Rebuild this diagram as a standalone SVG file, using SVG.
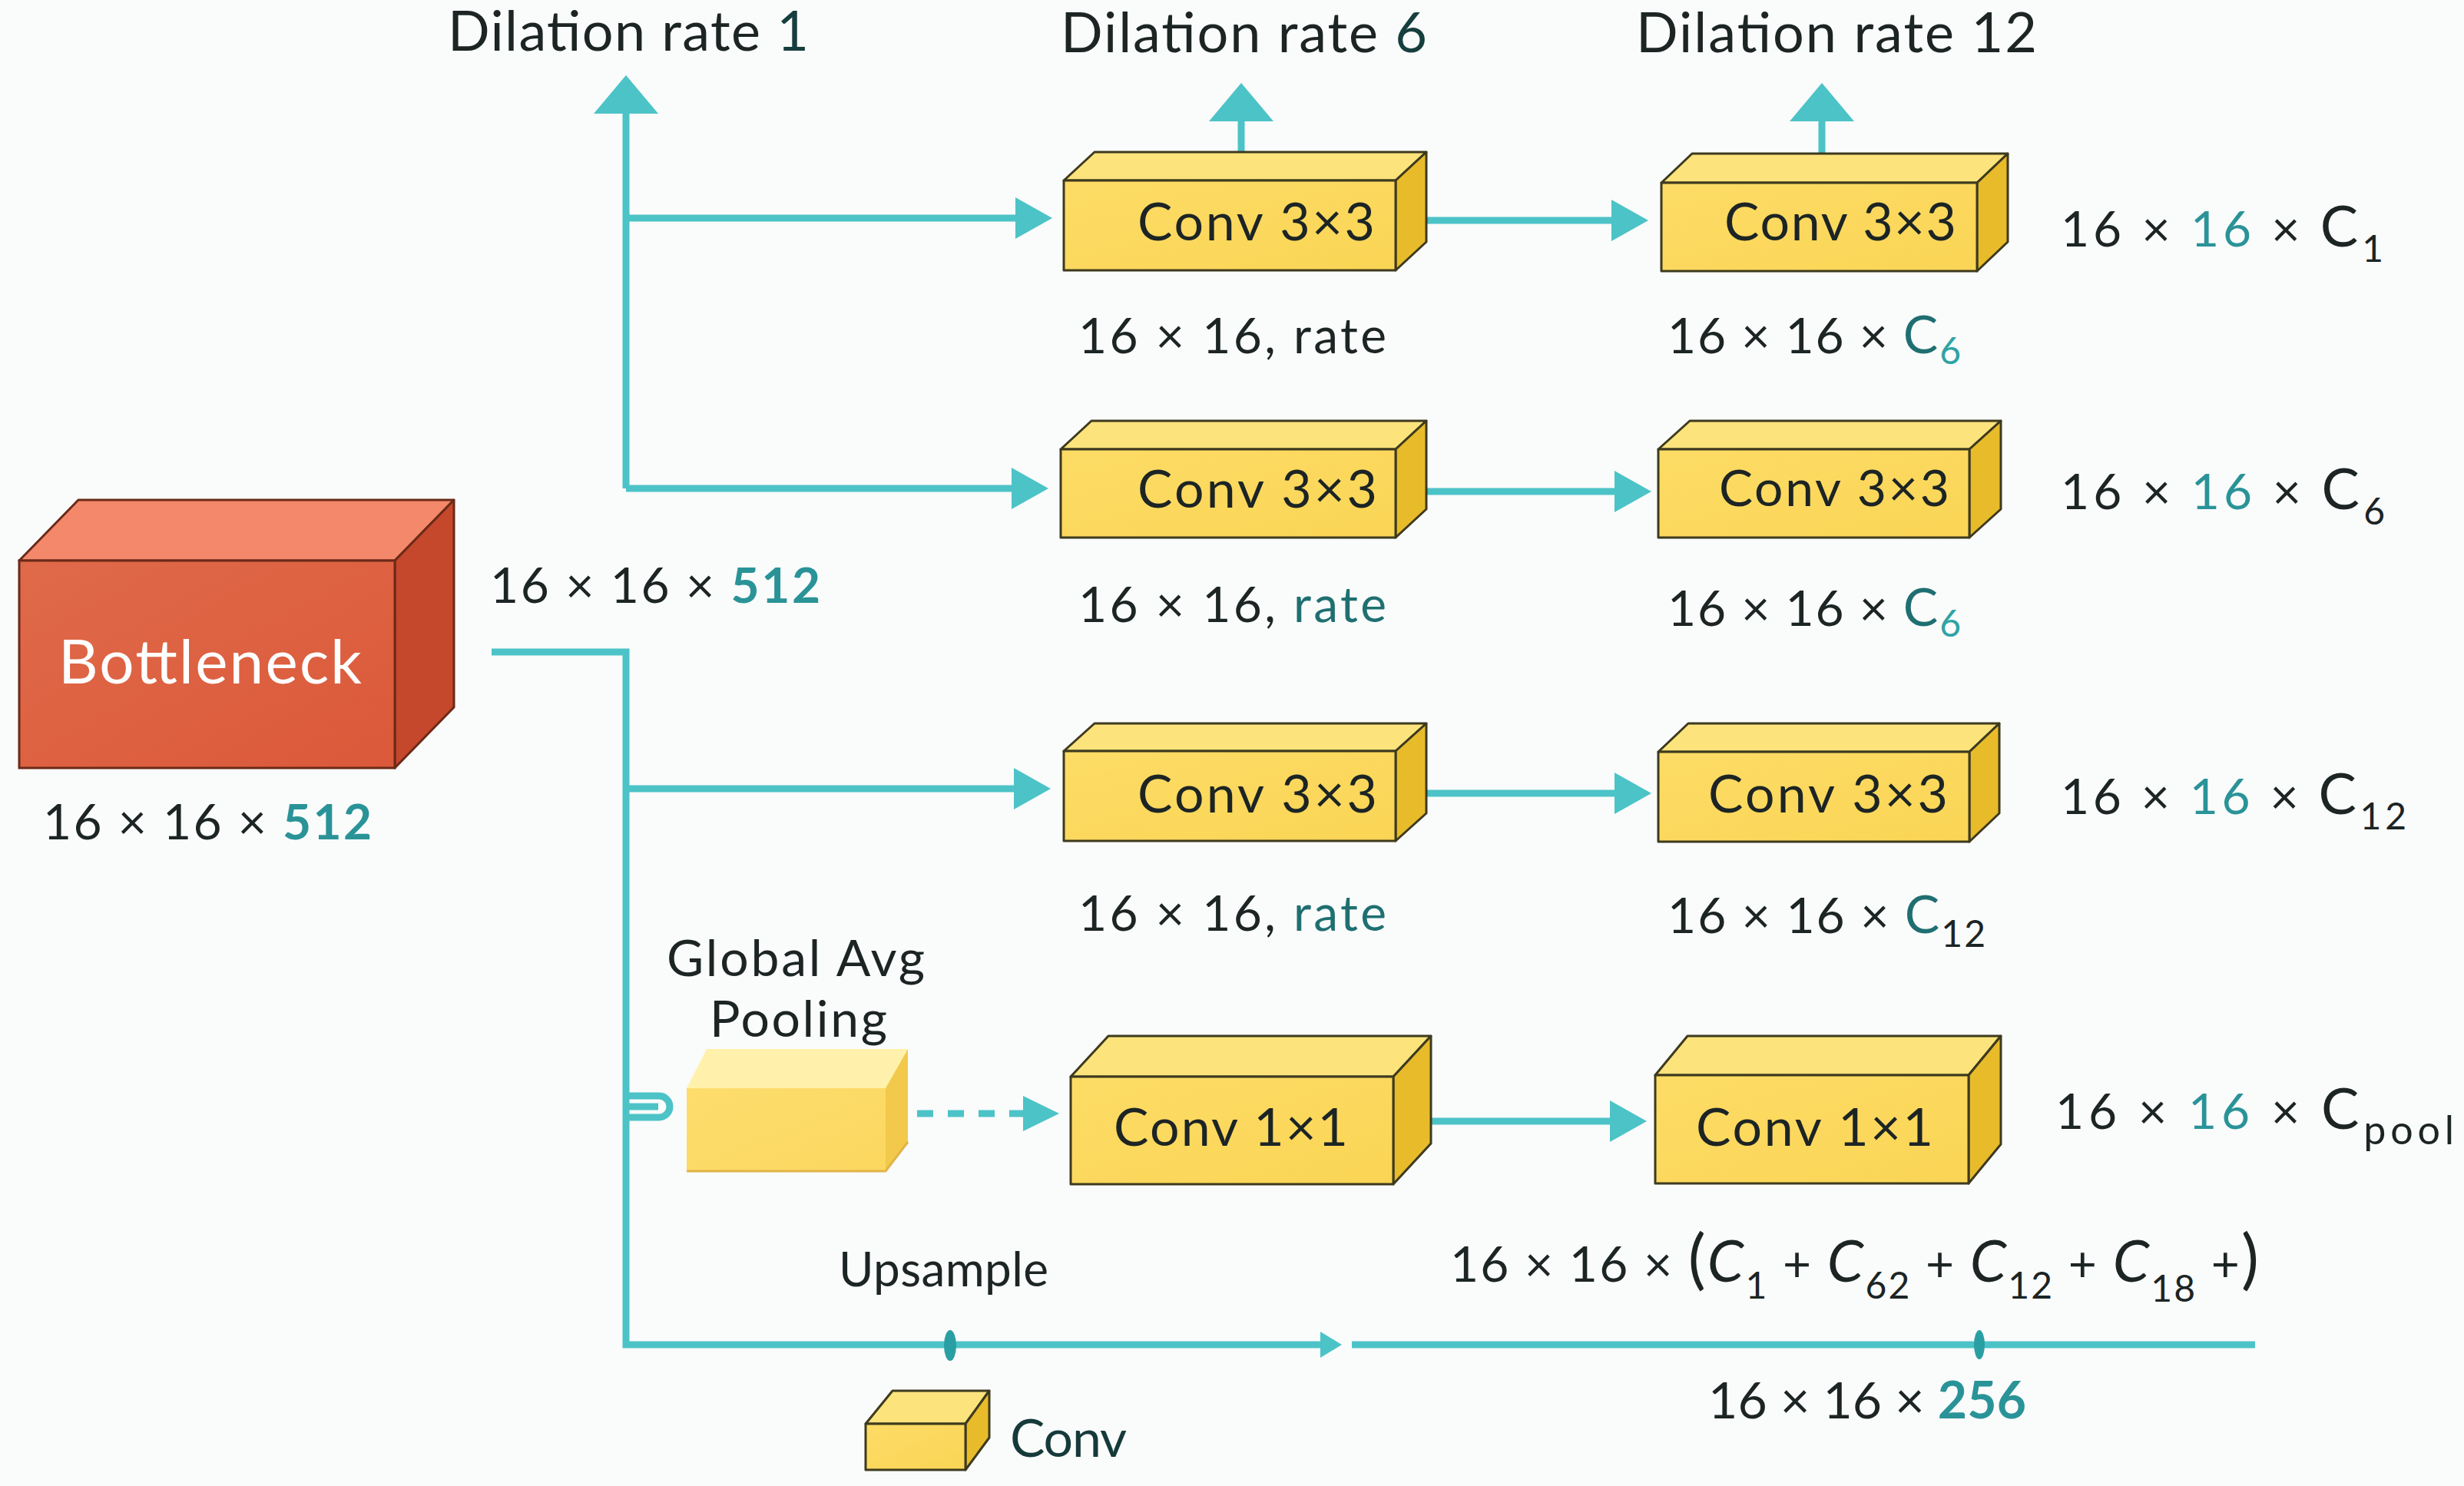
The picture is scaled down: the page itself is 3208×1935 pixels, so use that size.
<svg xmlns="http://www.w3.org/2000/svg" width="3208" height="1935" viewBox="0 0 3208 1935">
<defs>
<style>
.t{font-family:Lato,"Open Sans","Liberation Sans",sans-serif;fill:#1c2424}
.w{fill:#ffffff}
.tl{fill:#2a9398}
.dt{fill:#1f6f71}
.lt{fill:#2fa3a5}
.it{font-style:italic}
.ln{fill:none;stroke:#4cc3c7;stroke-width:9}
.yf{fill:url(#gy);stroke:#3d3a1e;stroke-width:3;stroke-linejoin:round}
.yt{fill:#fde37c;stroke:#3d3a1e;stroke-width:3;stroke-linejoin:round}
.yr{fill:#e8bb2b;stroke:#3d3a1e;stroke-width:3;stroke-linejoin:round}
</style>
<linearGradient id="gy" x1="0" y1="0" x2="1" y2="1">
<stop offset="0" stop-color="#fddc66"/><stop offset="1" stop-color="#fad555"/>
</linearGradient>
<linearGradient id="gr" x1="0" y1="0" x2="1" y2="1">
<stop offset="0" stop-color="#df6a4a"/><stop offset="1" stop-color="#db593a"/>
</linearGradient>
<linearGradient id="gp" x1="0" y1="0" x2="1" y2="1">
<stop offset="0" stop-color="#fedd6e"/><stop offset="1" stop-color="#fbd75f"/>
</linearGradient>
<marker id="ah" markerUnits="userSpaceOnUse" viewBox="0 0 48 54" markerWidth="48" markerHeight="54" refX="1" refY="27" orient="auto"><path d="M0,0 L48,27 L0,54 Z" fill="#4cc3c7"/></marker>
<marker id="au" markerUnits="userSpaceOnUse" viewBox="0 0 50 84" markerWidth="50" markerHeight="84" refX="1" refY="42" orient="auto"><path d="M0,0 L50,42 L0,84 Z" fill="#4cc3c7"/></marker>
<marker id="ad" markerUnits="userSpaceOnUse" viewBox="0 0 47 46" markerWidth="47" markerHeight="46" refX="1" refY="23" orient="auto"><path d="M0,0 L47,23 L0,46 Z" fill="#4cc3c7"/></marker>
<marker id="as" markerUnits="userSpaceOnUse" viewBox="0 0 28 34" markerWidth="28" markerHeight="34" refX="1" refY="17" orient="auto"><path d="M0,0 L28,17 L0,34 Z" fill="#4cc3c7"/></marker>
</defs>
<rect x="0" y="0" width="3208" height="1935" fill="#fafbfb"/>

<g id="connectors">
<path class="ln" d="M815,636 V147" marker-end="url(#au)"/>
<path class="ln" d="M815,284 H1323" marker-end="url(#ah)"/>
<path class="ln" d="M815,636 H1318" marker-end="url(#ah)"/>
<path class="ln" d="M1616,198 V157" marker-end="url(#au)"/>
<path class="ln" d="M2372,200 V157" marker-end="url(#au)"/>
<path class="ln" d="M1857,287 H2099" marker-end="url(#ah)"/>
<path class="ln" d="M1857,640 H2103" marker-end="url(#ah)"/>
<path class="ln" d="M1857,1033 H2103" marker-end="url(#ah)"/>
<path class="ln" d="M1863,1460 H2097" marker-end="url(#ah)"/>
<path class="ln" d="M640,849 H815 V1751 H1720" stroke-linejoin="miter" marker-end="url(#as)"/>
<path class="ln" d="M815,1027 H1321" marker-end="url(#ah)"/>
<path class="ln" d="M815,1427 H858 A14,14 0 0 1 872,1441 A14,14 0 0 1 858,1455 H815"/>
<path class="ln" d="M815,1441 H857" stroke-width="11"/>
<path class="ln" d="M1194,1450 H1333" stroke-dasharray="21 19" marker-end="url(#ad)"/>
<path class="ln" d="M1760,1751 H2936"/>
<ellipse cx="1237" cy="1752" rx="8" ry="20" fill="#2a9fa3"/>
<ellipse cx="2577" cy="1751" rx="7" ry="19" fill="#2a9fa3"/>
</g>

<g id="bottleneck">
<polygon points="25,730 102,651 591,651 514,730" fill="#f4886a" stroke="#6b2a18" stroke-width="3" stroke-linejoin="round"/>
<polygon points="514,730 591,651 591,921 514,1000" fill="#c5472c" stroke="#6b2a18" stroke-width="3" stroke-linejoin="round"/>
<rect x="25" y="730" width="489" height="270" fill="url(#gr)" stroke="#6b2a18" stroke-width="3"/>
<text class="t w" x="76" y="890" font-size="80" textLength="395">Bottleneck</text>
</g>
<g id="bottleneck-labels">
<text class="t" x="56" y="1093" font-size="64" textLength="428">16 × 16 × <tspan class="tl" font-weight="bold">512</tspan></text>
<text class="t" x="638" y="785" font-size="64" textLength="430">16 × 16 × <tspan class="tl" font-weight="bold">512</tspan></text>
</g>

<g id="titles">
<text class="t" x="583" y="66" font-size="72" textLength="470">Dilation rate <tspan fill="#163e3e">1</tspan></text>
<text class="t" x="1381" y="68" font-size="72" textLength="477">Dilation rate <tspan fill="#163e3e">6</tspan></text>
<text class="t" x="2130" y="68" font-size="72" textLength="522">Dilation rate 12</text>
</g>

<g id="conv-a1">
<polygon class="yt" points="1385,235 1425,198 1857,198 1817,235"/>
<polygon class="yr" points="1817,235 1857,198 1857,315 1817,352"/>
<rect class="yf" x="1385" y="235" width="432" height="117"/>
<text class="t" x="1481" y="313" font-size="68" textLength="309">Conv 3×3</text>
</g>
<g id="conv-a2">
<polygon class="yt" points="2163,238 2203,200 2614,200 2574,238"/>
<polygon class="yr" points="2574,238 2614,200 2614,315 2574,353"/>
<rect class="yf" x="2163" y="238" width="411" height="115"/>
<text class="t" x="2245" y="313" font-size="68" textLength="302">Conv 3×3</text>
</g>
<g id="conv-b1">
<polygon class="yt" points="1381,585 1421,548 1857,548 1817,585"/>
<polygon class="yr" points="1817,585 1857,548 1857,663 1817,700"/>
<rect class="yf" x="1381" y="585" width="436" height="115"/>
<text class="t" x="1481" y="661" font-size="68" textLength="312">Conv 3×3</text>
</g>
<g id="conv-b2">
<polygon class="yt" points="2159,585 2200,548 2605,548 2564,585"/>
<polygon class="yr" points="2564,585 2605,548 2605,663 2564,700"/>
<rect class="yf" x="2159" y="585" width="405" height="115"/>
<text class="t" x="2238" y="659" font-size="66" textLength="300">Conv 3×3</text>
</g>
<g id="conv-c1">
<polygon class="yt" points="1385,978 1425,942 1857,942 1817,978"/>
<polygon class="yr" points="1817,978 1857,942 1857,1059 1817,1095"/>
<rect class="yf" x="1385" y="978" width="432" height="117"/>
<text class="t" x="1481" y="1058" font-size="68" textLength="312">Conv 3×3</text>
</g>
<g id="conv-c2">
<polygon class="yt" points="2159,979 2198,942 2603,942 2564,979"/>
<polygon class="yr" points="2564,979 2603,942 2603,1059 2564,1096"/>
<rect class="yf" x="2159" y="979" width="405" height="117"/>
<text class="t" x="2224" y="1058" font-size="68" textLength="312">Conv 3×3</text>
</g>
<g id="gap-pool">
<polygon points="894,1417 920,1366 1182,1366 1153,1417" fill="#fff1ab"/>
<polygon points="1153,1417 1182,1366 1182,1487 1153,1525" fill="#f2c94a"/>
<rect x="894" y="1417" width="259" height="108" fill="url(#gp)"/>
<path d="M894,1525 H1153 L1182,1487" fill="none" stroke="#e0b448" stroke-width="3"/>
<text class="t" x="868" y="1271" font-size="66" textLength="336">Global Avg</text>
<text class="t" x="924" y="1350" font-size="66" textLength="231">Pooling</text>
</g>
<g id="conv-d1">
<polygon class="yt" points="1394,1402 1443,1349 1863,1349 1814,1402"/>
<polygon class="yr" points="1814,1402 1863,1349 1863,1489 1814,1542"/>
<rect class="yf" x="1394" y="1402" width="420" height="140"/>
<text class="t" x="1450" y="1492" font-size="68" textLength="305">Conv 1×1</text>
</g>
<g id="conv-d2">
<polygon class="yt" points="2155,1400 2197,1349 2605,1349 2563,1400"/>
<polygon class="yr" points="2563,1400 2605,1349 2605,1490 2563,1541"/>
<rect class="yf" x="2155" y="1400" width="408" height="141"/>
<text class="t" x="2208" y="1492" font-size="68" textLength="309">Conv 1×1</text>
</g>

<g id="dim-labels">
<text class="t" x="1404" y="460" font-size="64" textLength="401">16 × 16, rate</text>
<text class="t" x="1404" y="810" font-size="64" textLength="401">16 × 16, <tspan class="dt">rate</tspan></text>
<text class="t" x="1404" y="1212" font-size="64" textLength="401">16 × 16, <tspan class="dt">rate</tspan></text>
<text class="t" x="2171" y="460" font-size="64" textLength="382">16 × 16 × <tspan class="dt" font-size="68">C</tspan><tspan class="lt" font-size="48" dy="14">6</tspan></text>
<text class="t" x="2171" y="815" font-size="64" textLength="382">16 × 16 × <tspan class="dt" font-size="68">C</tspan><tspan class="lt" font-size="48" dy="14">6</tspan></text>
<text class="t" x="2171" y="1215" font-size="64" textLength="414">16 × 16 × <tspan class="dt" font-size="68">C</tspan><tspan font-size="48" dy="18">12</tspan></text>
<text class="t" x="2683" y="321" font-size="64" textLength="420">16 × <tspan class="tl">16</tspan> × <tspan font-size="74">C</tspan><tspan font-size="48" dy="20">1</tspan></text>
<text class="t" x="2683" y="663" font-size="64" textLength="422">16 × <tspan class="tl">16</tspan> × <tspan font-size="74">C</tspan><tspan font-size="48" dy="20">6</tspan></text>
<text class="t" x="2683" y="1060" font-size="64" textLength="450">16 × <tspan class="tl">16</tspan> × <tspan font-size="74">C</tspan><tspan font-size="48" dy="20">12</tspan></text>
<text class="t" x="2676" y="1470" font-size="64" textLength="519">16 × <tspan class="tl">16</tspan> × <tspan font-size="74">C</tspan><tspan font-size="52" dy="20">pool</tspan></text>
<text class="t" x="1888" y="1669" font-size="64" textLength="1053">16 × 16 × <tspan font-size="86">(</tspan><tspan class="it" font-size="76">C</tspan><tspan font-size="48" dy="22">1</tspan><tspan dy="-22"> + </tspan><tspan class="it" font-size="76">C</tspan><tspan font-size="48" dy="22">62</tspan><tspan dy="-22"> + </tspan><tspan class="it" font-size="76">C</tspan><tspan font-size="48" dy="22">12</tspan><tspan dy="-22"> + </tspan><tspan class="it" font-size="76">C</tspan><tspan font-size="48" dy="26">18</tspan><tspan dy="-26"> +</tspan><tspan font-size="86">)</tspan></text>
<text class="t" x="1092" y="1675" font-size="62" textLength="273">Upsample</text>
<text class="t" x="2224" y="1847" font-size="66" textLength="414">16 × 16 × <tspan class="tl" font-weight="bold">256</tspan></text>
</g>

<g id="legend">
<polygon class="yt" points="1127,1854 1162,1811 1288,1811 1257,1854"/>
<polygon class="yr" points="1257,1854 1288,1811 1288,1872 1257,1914"/>
<rect class="yf" x="1127" y="1854" width="130" height="60"/>
<text class="t" x="1315" y="1897" font-size="68" textLength="152" style="fill:#163a3a">Conv</text>
</g>
</svg>
